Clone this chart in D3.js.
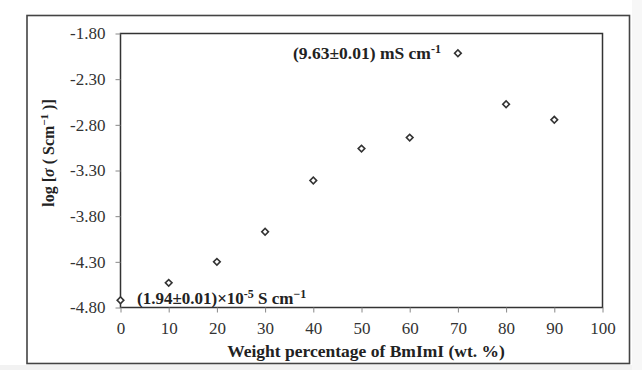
<!DOCTYPE html>
<html>
<head>
<meta charset="utf-8">
<script src="https://cdn.jsdelivr.net/npm/d3@7"></script>
<style>
  body { margin: 0; background: #fff; }
  svg { display: block; font-family: "Liberation Serif", "Times New Roman", serif; }
</style>
</head>
<body>
<div id="chart"></div>
<script>
// data
const wt_percent = [0, 10, 20, 30, 40, 50, 60, 70, 80, 90];
const log_sigma = [-4.72, -4.53, -4.30, -3.97, -3.41, -3.06, -2.94, -2.016, -2.574, -2.745];
const x_ticks = [0, 10, 20, 30, 40, 50, 60, 70, 80, 90, 100];
const y_ticks = [-4.80, -4.30, -3.80, -3.30, -2.80, -2.30, -1.80];

const width = 642, height = 370;
const plot = {left: 120.5, right: 602.5, top: 33.5, bottom: 307.5};

const svg = d3.select("#chart").append("svg")
  .attr("width", width)
  .attr("height", height);

// light strip under the frame
svg.append("rect")
  .attr("x", 0).attr("y", 365).attr("width", width).attr("height", 5)
  .attr("fill", "#f2f2f2");
svg.append("rect")
  .attr("x", 632).attr("y", 0).attr("width", 10).attr("height", height)
  .attr("fill", "#f7f7f7");

// outer frame
svg.append("rect")
  .attr("x", 27).attr("y", 15.5)
  .attr("width", 602.5).attr("height", 348)
  .attr("fill", "#fff")
  .attr("stroke", "#444")
  .attr("stroke-width", 1.6);

const x = d3.scaleLinear().domain([0, 100]).range([plot.left, plot.right]);
const y = d3.scaleLinear().domain([-4.8, -1.8]).range([plot.bottom, plot.top]);

// plot box
svg.append("rect")
  .attr("x", plot.left).attr("y", plot.top)
  .attr("width", plot.right - plot.left).attr("height", plot.bottom - plot.top)
  .attr("fill", "none")
  .attr("stroke", "#333")
  .attr("stroke-width", 1.5);

const xAxis = svg.append("g")
  .attr("transform", "translate(0," + plot.bottom + ")")
  .call(d3.axisBottom(x).tickValues(x_ticks).tickSize(5).tickSizeOuter(0).tickPadding(9).tickFormat(d3.format("d")));
xAxis.select(".domain").remove();
xAxis.selectAll("line").attr("stroke", "#888");
xAxis.selectAll("text")
  .attr("font-family", "Liberation Serif, serif")
  .attr("font-size", 17)
  .attr("fill", "#333");

const yAxis = svg.append("g")
  .attr("transform", "translate(" + plot.left + ",0)")
  .call(d3.axisLeft(y).tickValues(y_ticks).tickSize(5).tickSizeOuter(0).tickPadding(10).tickFormat(d3.format(".2f")));
yAxis.select(".domain").remove();
yAxis.selectAll("line").attr("stroke", "#888");
yAxis.selectAll("text")
  .attr("font-family", "Liberation Serif, serif")
  .attr("font-size", 17)
  .attr("fill", "#333")
  .text(d => d3.format(".2f")(d).replace("−", "-"));

// markers: small square turned 45 degrees
const marker = d3.symbol().type(d3.symbolSquare).size(22);
svg.append("g").selectAll("path")
  .data(wt_percent)
  .enter()
  .append("path")
  .attr("d", marker)
  .attr("transform", (d, i) => "translate(" + x(d) + "," + y(log_sigma[i]) + ") rotate(45)")
  .attr("fill", "#fff")
  .attr("stroke", "#333")
  .attr("stroke-width", 1.6);

// annotations
const ann_top = svg.append("text")
  .attr("x", 293).attr("y", 59)
  .attr("font-size", 17.5).attr("font-weight", "bold").attr("fill", "#222");
ann_top.append("tspan").text("(9.63±0.01) mS cm");
ann_top.append("tspan").attr("dy", -6).attr("font-size", 12).text("-1");

const ann_low = svg.append("text")
  .attr("x", 137).attr("y", 304)
  .attr("font-size", 17).attr("font-weight", "bold").attr("fill", "#222");
ann_low.append("tspan").text("(1.94±0.01)×10");
ann_low.append("tspan").attr("dy", -6).attr("font-size", 12).text("-5");
ann_low.append("tspan").attr("dy", 6).text(" S cm");
ann_low.append("tspan").attr("dy", -6).attr("font-size", 12).text("−1");

// axis titles
svg.append("text")
  .attr("x", 366).attr("y", 357)
  .attr("text-anchor", "middle")
  .attr("font-size", 17.5).attr("font-weight", "bold").attr("fill", "#222")
  .text("Weight percentage of BmImI (wt. %)");

const ylab = svg.append("text")
  .attr("transform", "translate(54,153) rotate(-90)")
  .attr("text-anchor", "middle")
  .attr("font-size", 16).attr("font-weight", "bold").attr("fill", "#222");
ylab.append("tspan").text("log [");
ylab.append("tspan").attr("font-style", "italic").text("σ");
ylab.append("tspan").text(" ( Scm");
ylab.append("tspan").attr("dy", -6).attr("font-size", 11).text("−1");
ylab.append("tspan").attr("dy", 6).text(" )]");
</script>
</body>
</html>
